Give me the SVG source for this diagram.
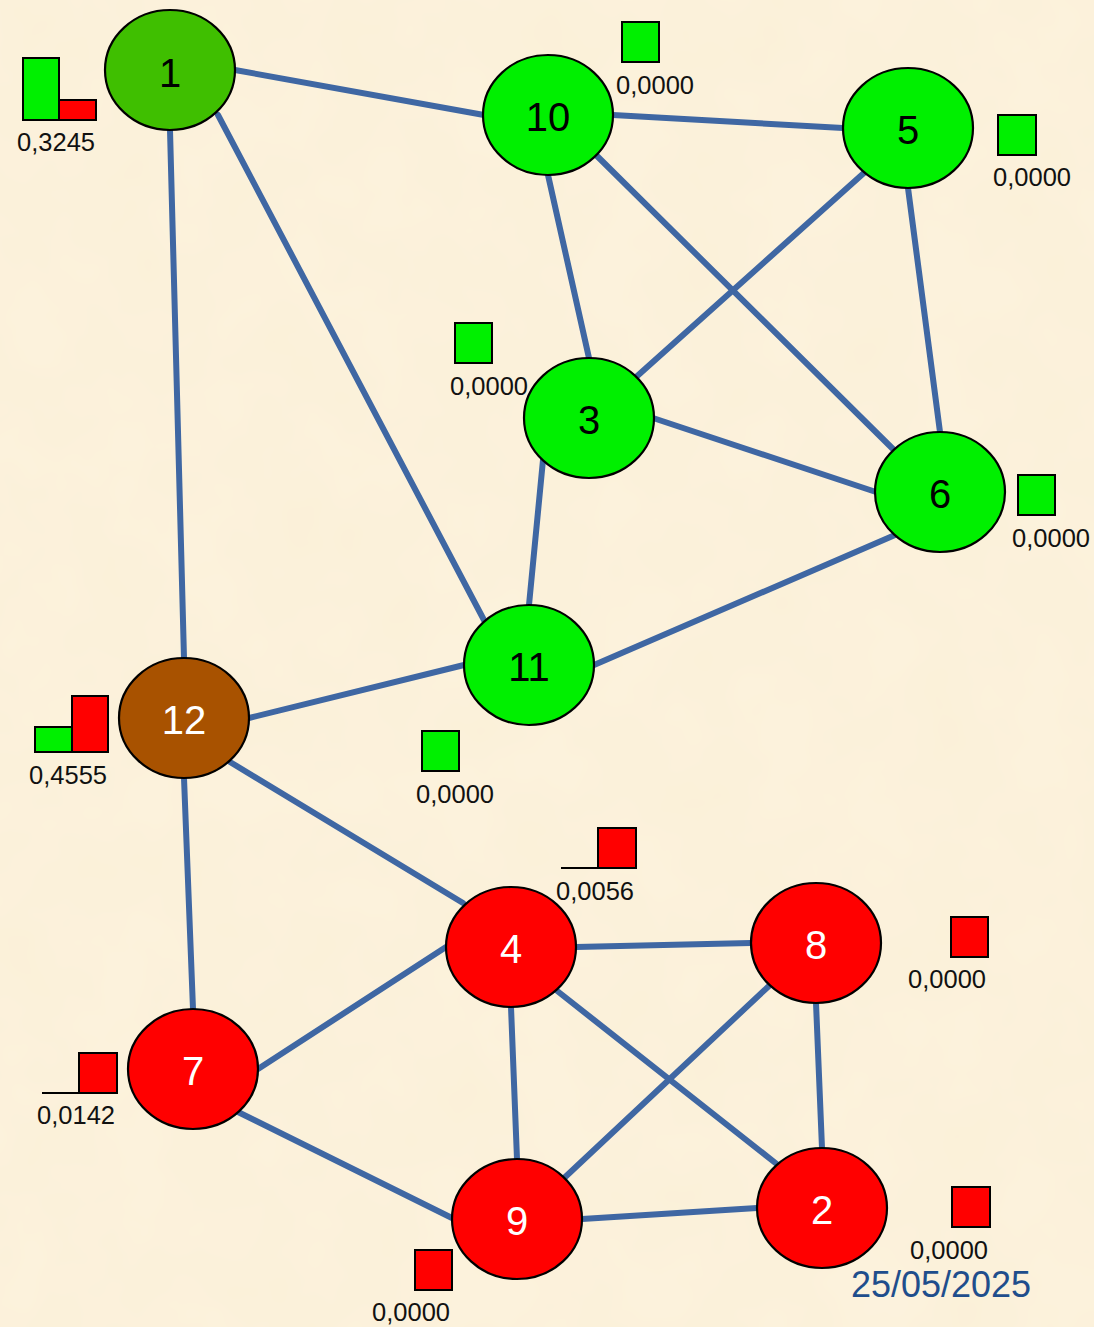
<svg xmlns="http://www.w3.org/2000/svg" width="1094" height="1327" viewBox="0 0 1094 1327">
<defs>
<filter id="parch" x="0" y="0" width="100%" height="100%">
<feTurbulence type="fractalNoise" baseFrequency="0.012" numOctaves="3" seed="4" result="n"/>
<feColorMatrix in="n" type="matrix" values="0 0 0 0 0.99  0 0 0 0 0.93  0 0 0 0 0.80  0 0 0 0.35 0"/>
</filter>
</defs>
<style>
.edge{stroke:#3F67A3;stroke-width:6;stroke-linecap:round;fill:none}
.node{stroke:#000;stroke-width:2.2}
.g1{fill:#3FBF00}
.g{fill:#00F000}
.r{fill:#FF0000}
.b{fill:#A85200}
.lbl{font-family:"Liberation Sans",Arial,sans-serif;font-size:40px;text-anchor:middle}
.dk{fill:#000}
.wh{fill:#fff}
.bar{stroke:#000;stroke-width:2}
.base{stroke:#000;stroke-width:2}
.val{font-family:"Liberation Sans",Arial,sans-serif;font-size:25.5px;text-anchor:middle;fill:#111}
.date{font-family:"Liberation Sans",Arial,sans-serif;font-size:36px;text-anchor:middle;fill:#1F4E8C}
</style>
<rect width="1094" height="1327" fill="#FBF0D8"/>
<rect width="1094" height="1327" filter="url(#parch)"/>
<g id="connectors">
<line class="edge" x1="235" y1="70" x2="484" y2="115"/>
<line class="edge" x1="170" y1="130" x2="184" y2="658"/>
<line class="edge" x1="218" y1="115" x2="485" y2="622"/>
<line class="edge" x1="613" y1="115" x2="843" y2="128"/>
<line class="edge" x1="548" y1="175" x2="589" y2="358"/>
<line class="edge" x1="596" y1="155" x2="896" y2="452"/>
<line class="edge" x1="865" y1="172" x2="635" y2="378"/>
<line class="edge" x1="908" y1="188" x2="940" y2="432"/>
<line class="edge" x1="653" y1="418" x2="876" y2="492"/>
<line class="edge" x1="543" y1="460" x2="529" y2="605"/>
<line class="edge" x1="895" y1="535" x2="594" y2="665"/>
<line class="edge" x1="464" y1="665" x2="249" y2="718"/>
<line class="edge" x1="230" y1="762" x2="463" y2="903"/>
<line class="edge" x1="184" y1="778" x2="193" y2="1009"/>
<line class="edge" x1="576" y1="947" x2="751" y2="943"/>
<line class="edge" x1="446" y1="947" x2="258" y2="1069"/>
<line class="edge" x1="511" y1="1007" x2="517" y2="1159"/>
<line class="edge" x1="556" y1="990" x2="778" y2="1165"/>
<line class="edge" x1="770" y1="985" x2="562" y2="1180"/>
<line class="edge" x1="816" y1="1003" x2="822" y2="1148"/>
<line class="edge" x1="238" y1="1112" x2="454" y2="1219"/>
<line class="edge" x1="582" y1="1219" x2="757" y2="1208"/>
</g>
<g id="node1">
<ellipse class="node g1" cx="170" cy="70" rx="65" ry="60"/>
<text class="lbl dk" x="170" y="87">1</text>
<rect class="bar g" x="23" y="58" width="36" height="62"/>
<rect class="bar r" x="59" y="100" width="37" height="20"/>
<text class="val" x="56" y="151">0,3245</text>
</g>
<g id="node10">
<ellipse class="node g" cx="548" cy="115" rx="65" ry="60"/>
<text class="lbl dk" x="548" y="131">10</text>
<rect class="bar g" x="622" y="22" width="37" height="40"/>
<text class="val" x="655" y="94">0,0000</text>
</g>
<g id="node5">
<ellipse class="node g" cx="908" cy="128" rx="65" ry="60"/>
<text class="lbl dk" x="908" y="144">5</text>
<rect class="bar g" x="998" y="115" width="38" height="40"/>
<text class="val" x="1032" y="186">0,0000</text>
</g>
<g id="node3">
<ellipse class="node g" cx="589" cy="418" rx="65" ry="60"/>
<text class="lbl dk" x="589" y="434">3</text>
<rect class="bar g" x="455" y="323" width="37" height="40"/>
<text class="val" x="489" y="395">0,0000</text>
</g>
<g id="node6">
<ellipse class="node g" cx="940" cy="492" rx="65" ry="60"/>
<text class="lbl dk" x="940" y="508">6</text>
<rect class="bar g" x="1018" y="475" width="37" height="40"/>
<text class="val" x="1051" y="547">0,0000</text>
</g>
<g id="node11">
<ellipse class="node g" cx="529" cy="665" rx="65" ry="60"/>
<text class="lbl dk" x="529" y="681">11</text>
<rect class="bar g" x="422" y="731" width="37" height="40"/>
<text class="val" x="455" y="803">0,0000</text>
</g>
<g id="node12">
<ellipse class="node b" cx="184" cy="718" rx="65" ry="60"/>
<text class="lbl wh" x="184" y="734">12</text>
<rect class="bar g" x="35" y="727" width="37" height="25"/>
<rect class="bar r" x="72" y="696" width="36" height="56"/>
<text class="val" x="68" y="784">0,4555</text>
</g>
<g id="node4">
<ellipse class="node r" cx="511" cy="947" rx="65" ry="60"/>
<text class="lbl wh" x="511" y="963">4</text>
<line class="base" x1="561" y1="868" x2="598" y2="868"/>
<rect class="bar r" x="598" y="828" width="38" height="40"/>
<text class="val" x="595" y="900">0,0056</text>
</g>
<g id="node8">
<ellipse class="node r" cx="816" cy="943" rx="65" ry="60"/>
<text class="lbl wh" x="816" y="959">8</text>
<rect class="bar r" x="951" y="917" width="37" height="40"/>
<text class="val" x="947" y="988">0,0000</text>
</g>
<g id="node7">
<ellipse class="node r" cx="193" cy="1069" rx="65" ry="60"/>
<text class="lbl wh" x="193" y="1085">7</text>
<line class="base" x1="42" y1="1093" x2="79" y2="1093"/>
<rect class="bar r" x="79" y="1053" width="38" height="40"/>
<text class="val" x="76" y="1124">0,0142</text>
</g>
<g id="node9">
<ellipse class="node r" cx="517" cy="1219" rx="65" ry="60"/>
<text class="lbl wh" x="517" y="1235">9</text>
<rect class="bar r" x="415" y="1250" width="37" height="40"/>
<text class="val" x="411" y="1321">0,0000</text>
</g>
<g id="node2">
<ellipse class="node r" cx="822" cy="1208" rx="65" ry="60"/>
<text class="lbl wh" x="822" y="1224">2</text>
<rect class="bar r" x="952" y="1187" width="38" height="40"/>
<text class="val" x="949" y="1259">0,0000</text>
</g>
<text class="date" x="941" y="1297">25/05/2025</text>
</svg>
